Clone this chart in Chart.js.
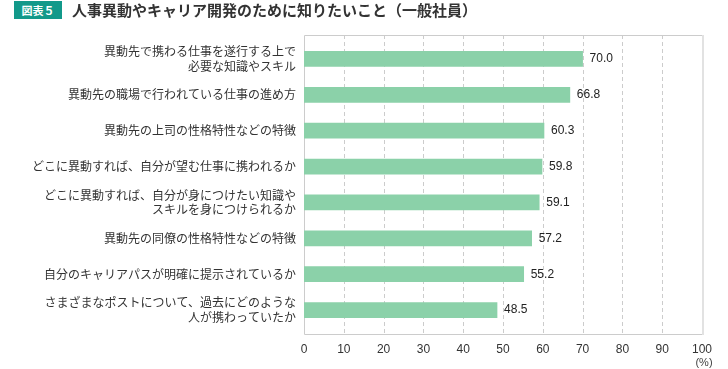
<!DOCTYPE html>
<html>
<head>
<meta charset="utf-8">
<script src="https://cdn.jsdelivr.net/npm/chart.js@4"></script>
<style>
  body { margin:0; background:#fff; }
  #wrap { position:relative; width:728px; height:369px; }
  #badge { position:absolute; left:14px; top:1px; width:48px; height:18px; background:#12998a;
    color:#fff; font:bold 11px "Noto Sans CJK JP"; line-height:18px; text-align:center; }
  #title { position:absolute; left:72px; top:0px; font:bold 15px "Noto Sans CJK JP"; color:#333; line-height:20px; }
  canvas { position:absolute; left:0; top:0; }
</style>
</head>
<body>
<div id="wrap">
  <canvas id="chart" width="728" height="369"></canvas>
  <div id="badge">図表５</div>
  <div id="title">人事異動やキャリア開発のために知りたいこと（一般社員）</div>
</div>
<script>
// donnees
const categories = [
  ["異動先で携わる仕事を遂行する上で", "必要な知識やスキル"],
  "異動先の職場で行われている仕事の進め方",
  "異動先の上司の性格特性などの特徴",
  "どこに異動すれば、自分が望む仕事に携われるか",
  ["どこに異動すれば、自分が身につけたい知識や", "スキルを身につけられるか"],
  "異動先の同僚の性格特性などの特徴",
  "自分のキャリアパスが明確に提示されているか",
  ["さまざまなポストについて、過去にどのような", "人が携わっていたか"]
]
const values = [70.0, 66.8, 60.3, 59.8, 59.1, 57.2, 55.2, 48.5]
const xMin = 0
const xMax = 100
const xStep = 10
const unitLabel = "(%)"

// cadre + grille pointillee
const framePlugin = {
  id: "frame",
  beforeDatasetsDraw(chart) {
    const ctx = chart.ctx
    const a = chart.chartArea
    const xs = chart.scales.x
    const top = a.top - 6, bottom = a.bottom + 6
    ctx.save()
    ctx.strokeStyle = "#cccccc"
    ctx.lineWidth = 1
    ctx.setLineDash([4, 3])
    for (let v = xMin + xStep; v < xMax; v += xStep) {
      const px = Math.round(xs.getPixelForValue(v)) + 0.5
      ctx.beginPath(); ctx.moveTo(px, top); ctx.lineTo(px, bottom); ctx.stroke()
    }
    ctx.setLineDash([])
    const l = Math.round(xs.getPixelForValue(xMin)) + 0.5
    const r = Math.round(xs.getPixelForValue(xMax)) + 0.5
    ctx.beginPath()
    ctx.moveTo(r, top + 0.5); ctx.lineTo(l, top + 0.5); ctx.lineTo(l, bottom + 0.5); ctx.lineTo(r, bottom + 0.5)
    ctx.stroke()
    ctx.strokeStyle = "#e2e2e2"
    ctx.lineWidth = 2
    ctx.beginPath(); ctx.moveTo(r + 0.5, top); ctx.lineTo(r + 0.5, bottom + 1); ctx.stroke()
    ctx.restore()
  },
  afterDatasetsDraw(chart) {
    const ctx = chart.ctx
    const meta = chart.getDatasetMeta(0)
    ctx.save()
    ctx.font = "12px 'Liberation Sans'"
    ctx.fillStyle = "#222"
    ctx.textBaseline = "middle"
    meta.data.forEach((bar, i) => {
      ctx.fillText(values[i].toFixed(1), bar.x + 7, bar.y)
    })
    // unite
    const xs = chart.scales.x
    ctx.font = "11px 'Liberation Sans'"
    ctx.fillStyle = "#444"
    ctx.textAlign = "center"
    ctx.fillText(unitLabel, xs.getPixelForValue(xMax) + 2, 363)
    ctx.restore()
  }
}

new Chart(document.getElementById("chart"), {
  type: "bar",
  data: {
    labels: categories,
    datasets: [{
      data: values,
      backgroundColor: "#8bd1a9",
      barThickness: 15
    }]
  },
  options: {
    indexAxis: "y",
    responsive: false,
    animation: false,
    layout: { padding: { top: 41, right: 26, bottom: 13, left: 0 } },
    plugins: { legend: { display: false }, tooltip: { enabled: false } },
    scales: {
      x: {
        min: xMin, max: xMax,
        afterFit: s => { s.height = 28 },
        ticks: { stepSize: xStep, padding: 14, color: "#333", font: { family: "Liberation Sans", size: 12 } },
        grid: { display: false, drawTicks: false },
        border: { display: false }
      },
      y: {
        afterFit: s => { s.width = 304 },
        ticks: { padding: 8, color: "#333", font: { family: "Noto Sans CJK JP", size: 12 } },
        grid: { display: false, drawTicks: false },
        border: { display: false }
      }
    }
  },
  plugins: [framePlugin]
})
</script>
</body>
</html>
